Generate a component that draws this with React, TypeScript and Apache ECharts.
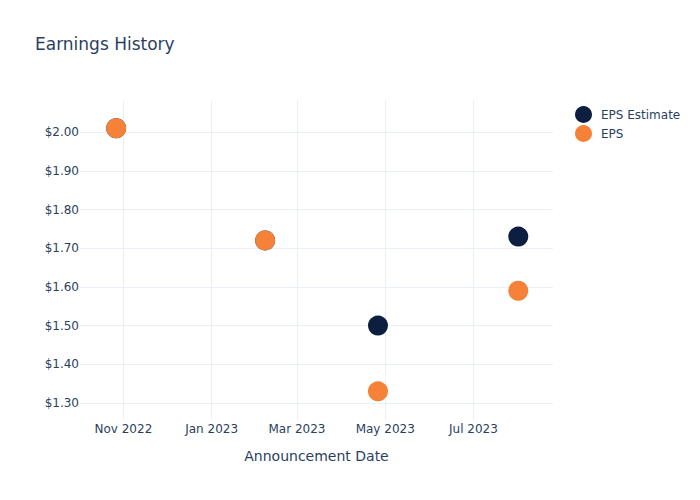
import React, { useEffect, useRef } from "react";
import * as echarts from "echarts";

const dates = ["2022-10-27", "2023-02-07", "2023-04-26", "2023-08-01"];
const epsEstimate = [2.01, 1.72, 1.5, 1.73];
const eps = [2.01, 1.72, 1.33, 1.59];
const seriesNames = ["EPS Estimate", "EPS"];
const xRange = ["2022-10-02", "2023-08-25"];
const yRange = [1.256, 2.083];

const FONT = "DejaVu Sans";
const TEXT = "#2a3f5f";
const GRID = "#ebf0f8";

export default function App() {
  const ref = useRef<HTMLDivElement>(null);
  useEffect(() => {
    if (!ref.current) return;
    const chart = echarts.init(ref.current, undefined, { renderer: "svg" });
    chart.setOption({
      animation: false,
      backgroundColor: "#ffffff",
      textStyle: { fontFamily: FONT },
      title: {
        text: "Earnings History",
        left: 35,
        top: 35,
        padding: 0,
        textStyle: { fontFamily: FONT, fontSize: 17, fontWeight: "normal", color: TEXT },
      },
      legend: {
        orient: "vertical",
        left: 570,
        top: 101,
        itemWidth: 17,
        itemHeight: 17,
        itemGap: 2,
        icon: "circle",
        data: seriesNames,
        textStyle: { fontFamily: FONT, fontSize: 12, color: TEXT, padding: [0, 0, 0, 4] },
      },
      grid: { left: 80, right: 147, top: 100, bottom: 80 },
      xAxis: {
        type: "time",
        min: xRange[0],
        max: xRange[1],
        splitNumber: 4,
        name: "Announcement Date",
        nameLocation: "middle",
        nameGap: 29,
        nameTextStyle: { fontFamily: FONT, fontSize: 14, color: TEXT },
        axisLine: { show: false },
        axisTick: { show: false },
        axisLabel: {
          formatter: "{MMM} {yyyy}",
          fontFamily: FONT,
          fontSize: 12,
          color: TEXT,
          margin: 3,
          showMinLabel: false,
          showMaxLabel: false,
        },
        splitLine: {
          show: true,
          showMinLine: false,
          showMaxLine: false,
          lineStyle: { color: GRID, width: 1 },
        },
      },
      yAxis: {
        type: "value",
        min: yRange[0],
        max: yRange[1],
        splitNumber: 8,
        axisLine: { show: false },
        axisTick: { show: false },
        axisLabel: {
          formatter: (v: number) => "$" + v.toFixed(2),
          fontFamily: FONT,
          fontSize: 12,
          color: TEXT,
          margin: 1,
          showMinLabel: false,
          showMaxLabel: false,
        },
        splitLine: {
          show: true,
          showMinLine: false,
          showMaxLine: false,
          lineStyle: { color: GRID, width: 1 },
        },
      },
      series: [
        {
          name: seriesNames[0],
          type: "scatter",
          symbolSize: 20,
          itemStyle: { color: "#0c1f40", opacity: 1 },
          data: dates.map((d, i) => [d, epsEstimate[i]]),
        },
        {
          name: seriesNames[1],
          type: "scatter",
          symbolSize: 20,
          itemStyle: { color: "#f58238", opacity: 1 },
          data: dates.map((d, i) => [d, eps[i]]),
        },
      ],
    });
    return () => chart.dispose();
  }, []);
  return (
    <div
      ref={ref}
      style={{ position: "absolute", left: 0, top: 0, width: 700, height: 500 }}
    />
  );
}
